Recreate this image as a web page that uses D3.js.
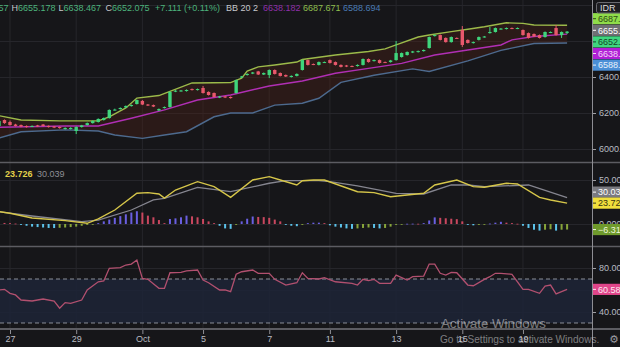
<!DOCTYPE html>
<html><head><meta charset="utf-8">
<script src="https://cdn.jsdelivr.net/npm/d3@7/dist/d3.min.js"></script>
<style>html,body{margin:0;padding:0;background:#161619;overflow:hidden}</style>
</head><body><svg id="c" width="620" height="347"></svg>
<script>
// ---------- DATA ----------
const opens = [6128,6161,6150,6136,6133,6128,6125,6131,6136,6128,
6125,6122,6111,6111,6100,6122,6133,6144,6150,6161,
6172,6217,6222,6231,6239,6250,6267,6247,6244,6214,
6228,6233,6319,6322,6322,6333,6328,6339,6317,6311,
6286,6292,6289,6311,6397,6411,6419,6431,6414,6411,
6439,6422,6411,6400,6406,6439,6494,6472,6467,6481,
6494,6483,6467,6464,6461,6461,6467,6500,6489,6494,
6483,6483,6494,6511,6522,6536,6539,6544,6561,6628,
6633,6617,6594,6617,6661,6606,6589,6606,6622,6644,
6650,6667,6667,6672,6669,6661,6644,6639,6633,6622,
6647,6672,6633,6645.057];
const closes = [6156,6144,6133,6128,6125,6122,6128,6125,6128,6122,
6119,6117,6117,6117,6122,6131,6144,6156,6167,6172,
6217,6219,6228,6239,6244,6272,6247,6242,6236,6222,
6233,6317,6324,6325,6328,6328,6333,6311,6300,6289,
6292,6286,6283,6383,6403,6417,6425,6414,6422,6439,
6417,6406,6403,6406,6417,6494,6467,6469,6483,6483,
6478,6467,6456,6458,6458,6467,6500,6483,6494,6478,
6481,6492,6533,6533,6539,6542,6544,6550,6622,6633,
6606,6594,6622,6614,6578,6589,6594,6622,6625,6650,
6672,6669,6672,6669,6672,6633,6617,6625,6617,6650,
6650,6633,6650,6652.075];
const highs = [6160,6164,6158,6140,6136,6131,6131,6134,6139,6131,
6128,6125,6120,6121,6126,6134,6147,6159,6170,6175,
6220,6224,6231,6242,6247,6275,6272,6250,6247,6225,
6236,6320,6327,6328,6331,6336,6336,6350,6320,6314,
6295,6295,6292,6386,6406,6420,6428,6434,6425,6442,
6442,6425,6414,6409,6420,6497,6497,6475,6486,6486,
6497,6486,6470,6467,6464,6470,6503,6503,6497,6497,
6486,6495,6600,6536,6542,6545,6547,6553,6625,6636,
6636,6620,6625,6620,6683,6609,6597,6625,6628,6678,
6675,6672,6675,6675,6675,6664,6647,6642,6636,6653,
6653,6689,6653,6655.178];
const lows = [6122,6140,6130,6125,6121,6119,6122,6122,6125,6119,
6116,6113,6108,6108,6083,6119,6130,6141,6147,6158,
6169,6214,6219,6228,6236,6247,6244,6239,6233,6211,
6225,6230,6316,6319,6319,6325,6325,6308,6297,6286,
6283,6283,6280,6308,6394,6408,6416,6411,6411,6394,
6414,6403,6400,6397,6403,6436,6464,6466,6464,6478,
6475,6464,6453,6455,6455,6458,6464,6480,6486,6475,
6478,6480,6491,6508,6519,6533,6536,6541,6558,6625,
6603,6591,6591,6611,6567,6586,6586,6603,6619,6641,
6647,6664,6664,6666,6666,6630,6614,6622,6614,6619,
6644,6630,6617,6638.467];

// Bollinger Bands (20, 2) read at sample candles
const bbUpperIdx = [0,4,11,18,20,23,25,29,31,35,39,42,44,45,47,50,54,55,61,67,70,72,76,78,82,85,88,92,95,97,103];
const bbUpper    = [6185,6161,6156,6156,6178,6228,6283,6297,6320,6367,6368,6369,6394,6433,6456,6467,6483,6497,6522,6542,6556,6578,6622,6633,6652,6665,6679,6701,6698,6689,6687.671];
const bbBasisIdx = [0,12,18,24,30,36,42,49,55,61,67,73,79,85,91,93,97,103];
const bbBasis    = [6121,6128,6128,6171,6217,6272,6300,6350,6378,6421,6448,6476,6522,6550,6578,6606,6625,6638.182];
const bbLowerIdx = [0,4,12,18,21,26,30,34,39,42,46,50,55,58,62,68,75,78,85,91,97,103];
const bbLower    = [6061,6096,6106,6100,6078,6059,6078,6096,6179,6200,6200,6244,6254,6282,6370,6410,6445,6431,6490,6548,6586,6588.694];

// MACD
const macdIdx = [0,2,6,12,16,18,21,25,27,29,30,32,36,39,42,46,49,51,54,55,57,59,65,68,71,74,77,79,83,86,88,92,94,98,100,103];
const macdLine = [14.0,12.2,6.8,3.8,0.8,5.7,15.9,34.9,35.6,34.1,29.5,38.6,48.1,42.4,30.3,50,53.8,50,44.3,49.2,50,50,36.7,35.6,31.0,33.0,34.9,44.3,50,42.4,41.7,46.3,45.5,30.3,27.3,23.726];
const signalIdx = [0,6,15,18,24,28,30,36,42,49,52,58,60,65,72,77,82,85,88,96,103];
const signalLine = [14.0,9.1,2.6,4.5,15.9,27.3,29.2,41.7,36.7,46.3,49.2,49.2,48.1,43.2,34.9,34.1,44.3,44.3,42.4,44.3,30.039];
const histogram = [1.5,1.2,1.0,0.5,-1,-2,-3,-3.5,-4,-4.5,
-4.6,-4.3,-4,-3.5,-3,-2,-1,-0.3,1,3,
5,7,9,11,13,14.5,13,9.5,7.6,4.5,
1,5.7,6.4,7.6,9.5,8.7,7.6,5.7,3,1,
-2,-5,-5.5,-1,3,6,8.5,8,7.8,7,
5,3,-1,-2,-2.5,-1,1,1.5,1.5,1,
-1.5,-3,-4,-5,-5.5,-5,-4.5,-4,-4.5,-5,
-4.5,-3,-1,-0.5,0.3,0.4,0.3,1,4,7.5,
7,6.5,6,5.5,3,-1,-1.5,-1,-0.5,0.5,
1.5,2.5,1.5,1,0.3,-2,-4.5,-6.5,-7.5,-6.5,
-6,-7.5,-6.5,-6.313];

// RSI
const rsiIdx = [0,1,2,3,4,6,8,10,11,12,13,15,16,18,19,20,22,23,24,25,26,27,29,30,31,33,34,36,37,38,40,41,42,43,44,46,47,49,50,52,54,55,56,58,59,61,64,65,66,67,68,69,71,72,74,75,77,78,79,80,81,82,83,85,86,88,89,90,91,93,95,96,98,99,100,101,102,103];
const rsi = [60,60.6,57,55.5,50.9,50,51.8,50,43.4,48.5,47.9,50.9,60,67.5,68.2,79.7,80.3,82.7,83.6,87.3,70.6,69.7,61.5,61.5,75.7,76.1,77.3,78.2,69.1,66.6,60,60,58.5,74.3,76.6,78.2,75.2,75.2,69.7,64.5,66.6,75.7,70.6,70,71.2,67.5,66.1,64.5,69.7,68.5,69.7,66.1,66.1,73.6,69.1,72.1,72.7,83.6,83.6,75.2,73.6,76.1,75.7,64.5,63.9,69.7,72.1,75.2,75.2,74.3,60.6,60.6,57,63.6,64.5,56.4,58.5,60.58];

// Axis ticks
const timeTickIdx = [2,14,26,37,49,60,72,84,95];
const timeTickLabels = ["27","29","Oct","5","7","11","13","15","19"];
const priceTicks = [6000,6200,6400,6600,6800];
const macdTicks = [0,50];
const rsiTicks = [40,60,80];
const rsiBands = [30,70];

// Legend values
const ohlcLast = {o:6645.057,h:6655.178,l:6638.467,c:6652.075,chg:"+7.111 (+0.11%)"};
const bbParams = "BB 20 2";
const extraPriceMark = 6655.978;

// ---------- DRAW ----------
const svg = d3.select("#c");
const FONT = "'Liberation Sans', Arial, sans-serif";
const axisX = 592;
svg.append("rect").attr("width",620).attr("height",347).attr("fill","#161619");

const x = d3.scaleLinear().domain([0,103]).range([-1.03,567.1]);
const yP = d3.scaleLinear().domain([5927.8,6827.8]).range([162,0]);
const yM = d3.scaleLinear().domain([-25,69.3]).range([246,163]);
const yR = d3.scaleLinear().domain([25.45,99.1]).range([328,247]);

svg.append("clipPath").attr("id","plot").append("rect").attr("x",0).attr("y",0).attr("width",axisX).attr("height",329);
const g = svg.append("g").attr("clip-path","url(#plot)");
const gridC = "#26262b";

// vertical grid
g.selectAll("line.vg").data(timeTickIdx).join("line")
  .attr("x1",d=>x(d)).attr("x2",d=>x(d)).attr("y1",0).attr("y2",329)
  .attr("stroke",gridC).attr("stroke-width",1);
// horizontal grids
const hgrid = (ticks, sc) => g.append("g").selectAll("line").data(ticks).join("line")
  .attr("x1",0).attr("x2",axisX).attr("y1",d=>Math.round(sc(d))+0.5).attr("y2",d=>Math.round(sc(d))+0.5)
  .attr("stroke",gridC);
hgrid(priceTicks, yP); hgrid(macdTicks, yM); hgrid(rsiTicks, yR);

// ---- Bollinger ----
const up = bbUpperIdx.map((d,i)=>[x(d), yP(bbUpper[i])]);
const bs = bbBasisIdx.map((d,i)=>[x(d), yP(bbBasis[i])]);
const lo = bbLowerIdx.map((d,i)=>[x(d), yP(bbLower[i])]);
const line = d3.line();
g.append("path").attr("d", line(up.concat(lo.slice().reverse()))+"Z")
  .attr("fill","#4a2118").attr("fill-opacity",0.42);
g.append("path").attr("d",line(up)).attr("fill","none").attr("stroke","#9cba4a").attr("stroke-width",1.4);
g.append("path").attr("d",line(bs)).attr("fill","none").attr("stroke","#b02fb4").attr("stroke-width",1.4);
g.append("path").attr("d",line(lo)).attr("fill","none").attr("stroke","#4d6a8e").attr("stroke-width",1.4);

// ---- Candles ----
const green="#3fd57c", red="#e8586c";
const cg = g.append("g");
opens.forEach((o,i)=>{
  const c = closes[i], col = c>=o?green:red, cx = x(i);
  cg.append("line").attr("x1",cx).attr("x2",cx).attr("y1",yP(highs[i])).attr("y2",yP(lows[i]))
    .attr("stroke",col).attr("stroke-width",1);
  const y0 = yP(Math.max(o,c)), y1 = yP(Math.min(o,c));
  cg.append("rect").attr("x",cx-1.7).attr("width",3.4).attr("y",y0).attr("height",Math.max(1,y1-y0)).attr("fill",col);
});

// ---- MACD ----
const hBlue="#6a5fe0", hRed="#c9475f", hCyan="#5cc3ea", hOlive="#87a53a";
histogram.forEach((v,i)=>{
  const prev = i>0?histogram[i-1]:v+1;
  const col = v>=0 ? (v>=prev?hBlue:hRed) : (v<prev?hCyan:hOlive);
  const y0 = yM(Math.max(0,v)), y1 = yM(Math.min(0,v));
  g.append("rect").attr("x",x(i)-1).attr("width",2).attr("y",y0).attr("height",Math.max(0.8,y1-y0)).attr("fill",col);
});
g.append("path").attr("d",line(signalIdx.map((d,i)=>[x(d),yM(signalLine[i])])))
  .attr("fill","none").attr("stroke","#85858f").attr("stroke-width",1.3);
g.append("path").attr("d",line(macdIdx.map((d,i)=>[x(d),yM(macdLine[i])])))
  .attr("fill","none").attr("stroke","#d6c64a").attr("stroke-width",1.4);

// ---- RSI ----
g.append("rect").attr("x",0).attr("width",axisX).attr("y",yR(rsiBands[1])).attr("height",yR(rsiBands[0])-yR(rsiBands[1]))
  .attr("fill","#1d2537").attr("fill-opacity",0.85);
g.append("g").selectAll("line").data(rsiBands).join("line")
  .attr("x1",0).attr("x2",axisX).attr("y1",d=>yR(d)).attr("y2",d=>yR(d))
  .attr("stroke","#8b8f98").attr("stroke-dasharray","4,3").attr("stroke-width",1);
g.append("path").attr("d",line(rsiIdx.map((d,i)=>[x(d),yR(rsi[i])])))
  .attr("fill","none").attr("stroke","#b2506f").attr("stroke-width",1.3);

// ---- separators ----
const sepC="#5c5c62";
[162.5,246.5].forEach(yy=>svg.append("line").attr("x1",0).attr("x2",620).attr("y1",yy).attr("y2",yy).attr("stroke",sepC).attr("stroke-width",1.6));
svg.append("line").attr("x1",0).attr("x2",620).attr("y1",329).attr("y2",329).attr("stroke",sepC).attr("stroke-width",2);
svg.append("line").attr("x1",axisX+0.5).attr("x2",axisX+0.5).attr("y1",0).attr("y2",347).attr("stroke","#8e8e94").attr("stroke-width",1);

// ---- time axis ----
const xa = d3.axisBottom(x).tickValues(timeTickIdx).tickFormat((d,i)=>timeTickLabels[i]).tickSize(4).tickPadding(2);
const xg = svg.append("g").attr("transform","translate(0,330)").call(xa);
xg.select(".domain").remove();
xg.selectAll("line").attr("stroke","#8e8e94");
xg.selectAll("text").attr("fill","#b8bbc2").attr("font-family",FONT).attr("font-size",9);

// ---- right axes ----
function rightAxis(sc, ticks, fmt){
  const a = d3.axisRight(sc).tickValues(ticks).tickFormat(fmt).tickSize(3).tickPadding(3);
  const ag = svg.append("g").attr("transform",`translate(${axisX+1},0)`).call(a);
  ag.select(".domain").remove();
  ag.selectAll("line").attr("stroke","#a0a0a6");
  ag.selectAll("text").attr("fill","#b8bbc2").attr("font-family",FONT).attr("font-size",9);
  return ag;
}
rightAxis(yP, priceTicks.filter(v=>v<=6400), d=>d3.format(".3f")(d));
rightAxis(yM, macdTicks, d=>d3.format(".3f")(d));
rightAxis(yR, rsiTicks.filter(v=>v!==60), d=>d3.format(".3f")(d));

function badge(yc, label, bg, fg){
  const b = svg.append("g");
  b.append("rect").attr("x",axisX+1).attr("y",yc-5.6).attr("width",30).attr("height",11.2).attr("fill",bg);
  b.append("line").attr("x1",axisX+1).attr("x2",axisX+4).attr("y1",yc).attr("y2",yc).attr("stroke",fg);
  b.append("text").attr("x",axisX+6).attr("y",yc+3.2).text(label).attr("fill",fg)
    .attr("font-family",FONT).attr("font-size",9);
}
// price pane labels stacked from the top of the pane
const priceBadges = [
  {v:bbUpper[bbUpper.length-1], bg:"#8fdc4a", fg:"#2e4a14"},
  {v:extraPriceMark, bg:"#6f6f74", fg:"#ffffff"},
  {v:ohlcLast.c, bg:"#3ed67e", fg:"#14452a"},
  {v:bbBasis[bbBasis.length-1], bg:"#b11fd6", fg:"#f3d8f8"},
  {v:bbLower[bbLower.length-1], bg:"#4b8fd6", fg:"#e6f0fb"}
];
priceBadges.forEach((b,i)=>badge(18.7+i*11.6, d3.format(".3f")(b.v), b.bg, b.fg));
// IDR box
svg.append("rect").attr("x",596.5).attr("y",2.5).attr("width",26).attr("height",10.5).attr("rx",2)
  .attr("fill","#1e1e22").attr("stroke","#6a6a70");
svg.append("text").attr("x",600).attr("y",11).text("IDR").attr("fill","#dcdcdc").attr("font-family",FONT).attr("font-size",9);

// MACD badges (push apart upward)
const macdLast = macdLine[macdLine.length-1], sigLast = signalLine[signalLine.length-1], histLast = histogram[histogram.length-1];
const yHist = yM(histLast), yMacd = Math.min(yM(macdLast), yHist-11), ySig = Math.min(yM(sigLast), yMacd-11);
badge(ySig, d3.format(".3f")(sigLast), "#7a7a80", "#ffffff");
badge(yMacd, d3.format(".3f")(macdLast), "#f0df3c", "#3a3410");
badge(yHist, d3.format(".3f")(histLast), "#6f9a2c", "#eef6dc");
// RSI badge
const rsiLast = rsi[rsi.length-1];
badge(yR(rsiLast), d3.format(".3f")(rsiLast), "#e0468a", "#fde8f1");

// ---- legends ----
const lg = svg.append("g").attr("font-family",FONT).attr("font-size",9);
const lblC="#c6c8cc", valC="#4cb37c";
function seg(xx, parts, anchor){
  const t = lg.append("text").attr("x",xx).attr("y",10.5).attr("text-anchor",anchor||"start");
  parts.forEach(p=>t.append("tspan").text(p[0]).attr("fill",p[1]));
}
seg(8.5, [["O",lblC],[d3.format(".3f")(ohlcLast.o),valC]], "end");
seg(11.5, [["H",lblC],[d3.format(".3f")(ohlcLast.h),valC]]);
seg(58.5, [["L",lblC],[d3.format(".3f")(ohlcLast.l),valC]]);
seg(105.5, [["C",lblC],[d3.format(".3f")(ohlcLast.c),valC]]);
seg(155, [[ohlcLast.chg,valC]]);
seg(226, [[bbParams,lblC]]);
seg(263, [[d3.format(".3f")(bbBasis[bbBasis.length-1]),"#8e2fa8"]]);
seg(303, [[d3.format(".3f")(bbUpper[bbUpper.length-1]),"#8fbf4e"]]);
seg(343, [[d3.format(".3f")(bbLower[bbLower.length-1]),"#4a7bb4"]]);
// MACD legend
svg.append("text").attr("x",5).attr("y",177).attr("font-family",FONT).attr("font-size",9).attr("font-weight","bold")
  .attr("fill","#e2d04a").text(d3.format(".3f")(macdLast));
svg.append("text").attr("x",37).attr("y",177).attr("font-family",FONT).attr("font-size",9)
  .attr("fill","#8e8e94").text(d3.format(".3f")(sigLast));

// ---- watermark ----
svg.append("text").attr("x",441).attr("y",328).text("Activate Windows")
  .attr("font-family",FONT).attr("font-size",13.3).attr("fill","#ffffff").attr("fill-opacity",0.45);
svg.append("text").attr("x",440).attr("y",343).text("Go to Settings to activate Windows.")
  .attr("font-family",FONT).attr("font-size",10.1).attr("fill","#ffffff").attr("fill-opacity",0.45);
svg.append("text").attr("x",609).attr("y",343).text("\u2699")
  .attr("font-family","'DejaVu Sans'").attr("font-size",11).attr("fill","#9a9aa0");
</script></body></html>
